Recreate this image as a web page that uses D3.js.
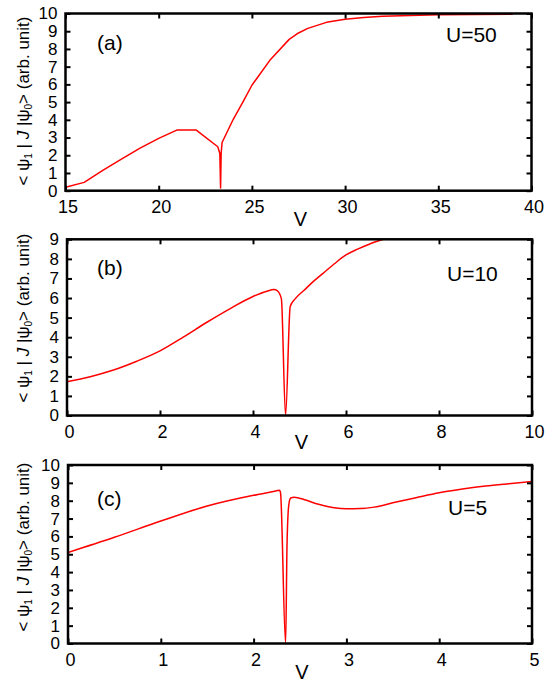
<!DOCTYPE html>
<html>
<head>
<meta charset="utf-8">
<script src="https://cdn.jsdelivr.net/npm/d3@7"></script>
<style>
  html, body { margin: 0; padding: 0; background: #fff; }
  svg { display: block; }
  text { font-family: "Liberation Sans", Arial, Helvetica, sans-serif; fill: #000; }
</style>
</head>
<body>
<svg id="chart" width="546" height="679"></svg>
<script>
// Panel (a): U = 50
const vA = [15, 16, 17, 18, 19, 20, 21, 22, 23.17, 23.28, 23.32, 23.35, 23.40, 24, 24.5, 25, 26, 27, 27.5, 28, 29, 30, 31, 32, 33, 35, 37, 39];
const jA = [0.19, 0.47, 1.15, 1.78, 2.4, 2.95, 3.43, 3.43, 2.48, 2.1, 0.15, 2.1, 2.72, 4.03, 4.97, 5.95, 7.41, 8.54, 8.9, 9.16, 9.5, 9.68, 9.78, 9.84, 9.88, 9.93, 9.95, 9.96];

// Panel (b): U = 10
const vB = [0, 0.5, 1, 1.5, 2, 2.5, 3, 3.5, 4, 4.3, 4.45, 4.52, 4.61, 4.70, 4.80, 4.91, 5.1, 5.3, 5.5, 5.75, 6, 6.25, 6.5, 6.75, 7.0];
const jB = [1.72, 1.98, 2.32, 2.77, 3.3, 4.0, 4.75, 5.45, 6.08, 6.35, 6.43, 6.38, 5.97, 0, 5.57, 5.97, 6.4, 6.85, 7.25, 7.75, 8.2, 8.5, 8.75, 8.96, 9.15];

// Panel (c): U = 5
const vC = [0, 0.5, 1, 1.5, 2, 2.2, 2.28, 2.29, 2.345, 2.36, 2.38, 2.40, 2.44, 2.55, 2.7, 2.87, 3.0, 3.15, 3.3, 3.5, 3.75, 4, 4.25, 4.5, 4.75, 5];
const jC = [5.1, 5.95, 6.86, 7.7, 8.3, 8.5, 8.58, 8.45, 0, 5.5, 7.8, 8.15, 8.2, 8.05, 7.8, 7.6, 7.55, 7.56, 7.64, 7.88, 8.17, 8.45, 8.65, 8.82, 8.95, 9.07];

// Tick values
const xTicksA = [15, 20, 25, 30, 35, 40];
const xTicksB = [0, 2, 4, 6, 8, 10];
const xTicksC = [0, 1, 2, 3, 4, 5];
const yTicksA = d3.range(0, 11);
const yTicksB = d3.range(0, 10);
const yTicksC = d3.range(0, 11);

const panelTags = ["(a)", "(b)", "(c)"];
const uLabels = ["U=50", "U=10", "U=5"];

const svg = d3.select("#chart");

const panels = [
  { v: vA, j: jA, xd: [15, 40], yd: [0, 10], xt: xTicksA, yt: yTicksA, curve: d3.curveLinear,
    box: { l: 65.5, r: 531.5, t: 13.5, b: 190.7 }, titleY: 101,
    tag: panelTags[0], tagPos: [97, 50], u: uLabels[0], uPos: [446, 42], vBase: 226 },
  { v: vB, j: jB, xd: [0, 10], yd: [0, 9], xt: xTicksB, yt: yTicksB, curve: d3.curveMonotoneX,
    box: { l: 67, r: 532, t: 239.3, b: 415.5 }, titleY: 318,
    tag: panelTags[1], tagPos: [97, 275], u: uLabels[1], uPos: [447, 281], vBase: 449 },
  { v: vC, j: jC, xd: [0, 5], yd: [0, 10], xt: xTicksC, yt: yTicksC, curve: d3.curveMonotoneX,
    box: { l: 68, r: 532, t: 465, b: 643.5 }, titleY: 547,
    tag: panelTags[2], tagPos: [97, 506], u: uLabels[2], uPos: [448, 515], vBase: 679 }
];

panels.forEach((p, i) => {
  const { l, r, t, b } = p.box;
  const x = d3.scaleLinear().domain(p.xd).range([l, r]);
  const y = d3.scaleLinear().domain(p.yd).range([b, t]);
  const g = svg.append("g");

  const clipId = "clip" + i;
  svg.append("clipPath").attr("id", clipId)
    .append("rect").attr("x", l).attr("y", t).attr("width", r - l).attr("height", b - t);

  // data curve
  const pts = p.v.map((vv, k) => [vv, p.j[k]]);
  g.append("path")
    .datum(pts)
    .attr("clip-path", `url(#${clipId})`)
    .attr("fill", "none")
    .attr("stroke", "#ff0000")
    .attr("stroke-width", 1.5)
    .attr("stroke-linejoin", "round")
    .attr("d", d3.line().curve(p.curve).x(d => x(d[0])).y(d => y(d[1])));

  // inward ticks on all four sides
  const tickLen = 5;
  const axB = d3.axisBottom(x).tickValues(p.xt).tickSize(-tickLen).tickPadding(10).tickFormat(d3.format("d"));
  const axT = d3.axisTop(x).tickValues(p.xt).tickSize(-tickLen).tickFormat("");
  const axL = d3.axisLeft(y).tickValues(p.yt).tickSize(-tickLen).tickPadding(8).tickFormat(d3.format("d"));
  const axR = d3.axisRight(y).tickValues(p.yt).tickSize(-tickLen).tickFormat("");

  const gb = g.append("g").attr("transform", `translate(0,${b})`).call(axB);
  const gt = g.append("g").attr("transform", `translate(0,${t})`).call(axT);
  const gl = g.append("g").attr("transform", `translate(${l},0)`).call(axL);
  const gr = g.append("g").attr("transform", `translate(${r},0)`).call(axR);
  [gb, gt, gl, gr].forEach(a => {
    a.select(".domain").remove();
    a.selectAll(".tick line").attr("stroke", "#000").attr("stroke-width", 2);
    a.selectAll("text")
      .style("font-family", "'Liberation Sans', Arial, sans-serif").attr("fill", "#000");
  });
  gb.selectAll("text").attr("dx", 2).style("font-size", "18px");
  gl.selectAll("text").style("font-size", "17px");

  // frame
  g.append("rect")
    .attr("x", l).attr("y", t).attr("width", r - l).attr("height", b - t)
    .attr("fill", "none").attr("stroke", "#000").attr("stroke-width", 2.5);

  // x axis title
  g.append("text").attr("x", (l + r) / 2 + 2).attr("y", p.vBase)
    .attr("text-anchor", "middle").style("font-size", "20px").text("V");

  // y axis title:  < ψ1 | J |ψ0> (arb. unit)
  const yt = g.append("text")
    .attr("transform", `translate(29,${p.titleY}) rotate(-90)`)
    .attr("text-anchor", "middle")
    .style("font-size", "17px");
  yt.append("tspan").text("< ψ");
  yt.append("tspan").attr("dy", 3).style("font-size", "10px").text("1");
  yt.append("tspan").attr("dy", -3).text(" | ");
  yt.append("tspan").style("font-style", "italic").text("J");
  yt.append("tspan").text(" |ψ");
  yt.append("tspan").attr("dy", 3).style("font-size", "10px").text("0");
  yt.append("tspan").attr("dy", -3).text("> (arb. unit)");

  // panel tag and interaction strength
  g.append("text").attr("x", p.tagPos[0]).attr("y", p.tagPos[1])
    .style("font-size", "21px").text(p.tag);
  g.append("text").attr("x", p.uPos[0]).attr("y", p.uPos[1])
    .style("font-size", "21px").text(p.u);
});
</script>
</body>
</html>
